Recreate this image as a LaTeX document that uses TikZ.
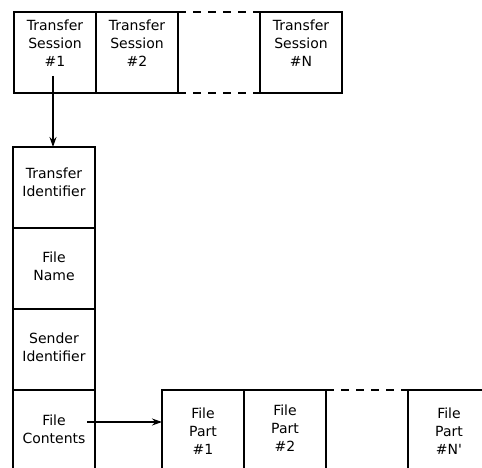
\documentclass[tikz,border=0pt]{standalone}
\usepackage{fontspec}
\setmainfont{DejaVu Sans}
\newfontfamily\dvplain{DejaVu Sans}
\usetikzlibrary{arrows.meta}
\begin{document}
\begin{tikzpicture}[x=1pt,y=-1pt,
  cell/.style={draw,line width=1.8pt,minimum width=82pt,minimum height=81pt,inner sep=0pt,outer sep=0pt},
  lbl/.style={align=center,font=\dvplain\fontsize{14}{17.8}\selectfont,inner sep=0pt},
  gap/.style={line width=1.8pt,dash pattern=on 8pt off 7pt},
  conn/.style={line width=1.2pt,-{Stealth[length=10pt,width=7pt]}}]
\useasboundingbox (0,0) rectangle (482,468);
\clip (0,0) rectangle (482,468);
% top row
\node[cell] (s1) at (55,52.5) {};
\node[cell] (s2) at (137,52.5) {};
\node[cell] (sn) at (301,52.5) {};
\draw[gap] (s2.north east) -- (sn.north west);
\draw[gap] (s2.south east) -- (sn.south west);
\node[lbl] (ts1) at (55,43) {Transfer\\Session\\\#1};
\node[lbl] (ts2) at (137,43) {Transfer\\Session\\\#2};
\node[lbl] (tsn) at (301,43) {Transfer\\Session\\\#N};
% column
\node[cell] (c1) at (54,187.5) {};
\node[cell] (c2) at (54,268.5) {};
\node[cell] (c3) at (54,349.5) {};
\node[cell] (c4) at (54,430.5) {};
\node[lbl] (tc1) at (54,182) {Transfer\\Identifier};
\node[lbl] (tc2) at (54,266) {File\\Name};
\node[lbl] (tc3) at (54,347) {Sender\\Identifier};
\node[lbl] (tc4) at (54,429) {File\\Contents};
% bottom row
\node[cell] (p1) at (203,430.5) {};
\node[cell] (p2) at (285,430.5) {};
\node[cell] (pn) at (449,430.5) {};
\draw[gap] (p2.north east) -- (pn.north west);
\node[lbl] (tp1) at (203,431) {File\\Part\\\#1};
\node[lbl] (tp2) at (285,428) {File\\Part\\\#2};
\node[lbl] (tpn) at (449,431) {File\\Part\\\#N'};
% connectors
\coordinate (a0) at (53,76);
\draw[conn] (a0) -- (c1.north -| a0);
\coordinate (b0) at (87,422);
\draw[conn] (b0) -- (p1.west |- b0);
\end{tikzpicture}
\end{document}
